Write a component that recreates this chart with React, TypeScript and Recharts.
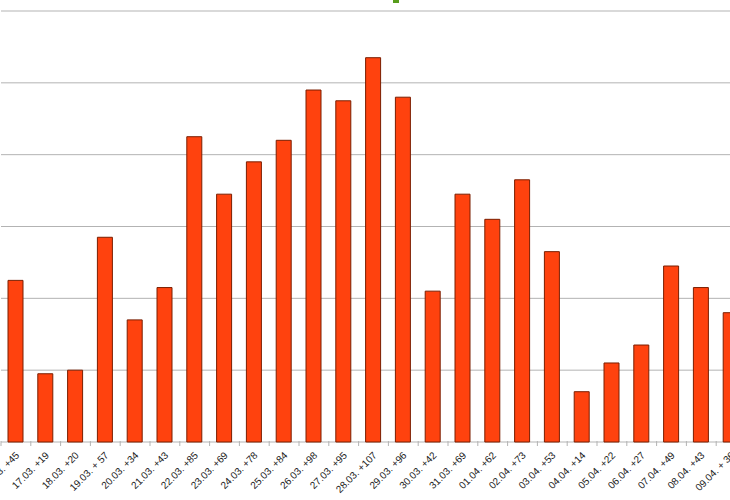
import React from 'react';
import { BarChart, Bar, XAxis, YAxis, CartesianGrid } from 'recharts';

const dates = ['16.03.', '17.03.', '18.03.', '19.03.', '20.03.', '21.03.', '22.03.', '23.03.', '24.03.', '25.03.', '26.03.', '27.03.', '28.03.', '29.03.', '30.03.', '31.03.', '01.04.', '02.04.', '03.04.', '04.04.', '05.04.', '06.04.', '07.04.', '08.04.', '09.04.'];
const increments = [45, 19, 20, 57, 34, 43, 85, 69, 78, 84, 98, 95, 107, 96, 42, 69, 62, 73, 53, 14, 22, 27, 49, 43, 36];
const tickLabels = ['16.03. +45', '17.03. +19', '18.03. +20', '19.03. + 57', '20.03. +34', '21.03. +43', '22.03. +85', '23.03. +69', '24.03. +78', '25.03. +84', '26.03. +98', '27.03. +95', '28.03. +107', '29.03. +96', '30.03. +42', '31.03. +69', '01.04. +62', '02.04. +73', '03.04. +53', '04.04. +14', '05.04. +22', '06.04. +27', '07.04. +49', '08.04. +43', '09.04. + 36'];
const yTicks = [0, 20, 40, 60, 80, 100, 120];

const data = dates.map((d, i) => ({ label: tickLabels[i], value: increments[i] }));

const Tick = (props: any) => {
  const { x, y, payload } = props;
  const off = payload && typeof payload.offset === 'number' && payload.offset > 0 ? payload.offset : 14.9;
  return (
    <g>
      <line x1={x - off} y1={y - 1} x2={x - off} y2={y + 4} stroke="#b3b3b3" strokeWidth={1} />
      <text
        x={0}
        y={0}
        transform={`translate(${x + 4},${y + 14}) rotate(-45)`}
        textAnchor="end"
        fontSize={10}
        fontFamily="Liberation Sans, Arial, sans-serif"
        fill="#222"
      >
        {payload.value}
      </text>
    </g>
  );
};

export default function App() {
  return (
    <div style={{ position: 'fixed', left: 0, top: 0, width: 730, height: 500, overflow: 'hidden', background: '#fff' }}>
      <div style={{ position: 'absolute', left: 393, top: 0, width: 6, height: 3, background: '#579d1c', zIndex: 2 }} />
      <BarChart
        width={746}
        height={500}
        data={data}
        margin={{ top: 11, right: 0, left: 1, bottom: 0 }}
      >
        <CartesianGrid horizontal vertical={false} stroke="#b3b3b3" strokeWidth={1} />
        <YAxis hide domain={[0, 120]} ticks={yTicks} />
        <XAxis
          dataKey="label"
          height={58}
          interval={0}
          tickLine={false}
          tickSize={0}
          tickMargin={0}
          axisLine={false}
          tick={<Tick />}
        />
        <Bar dataKey="value" fill="#ff420e" stroke="#7a1e00" strokeWidth={1} barSize={15} isAnimationActive={false} />
      </BarChart>
    </div>
  );
}
